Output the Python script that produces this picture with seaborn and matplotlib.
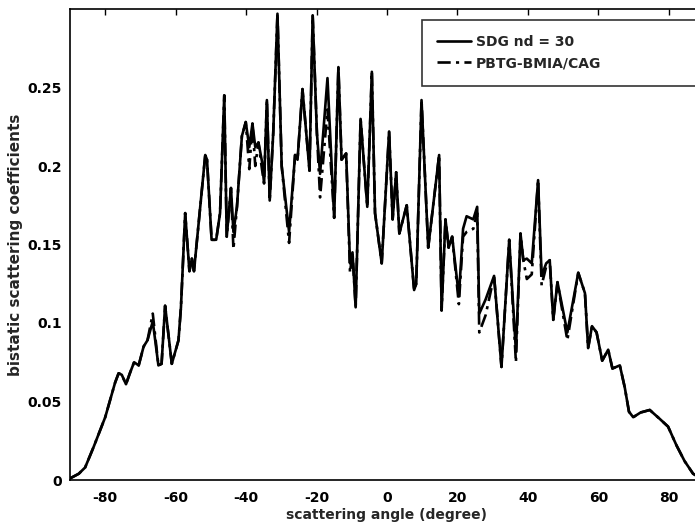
import numpy as np
import pandas as pd
import matplotlib
matplotlib.use("Agg")
import matplotlib.pyplot as plt
import seaborn as sns

# Bistatic scattering coefficients versus scattering angle (degrees)
angle = [-90.0, -87.5, -85.7, -83.3, -80.0, -77.2, -76.2, -75.3, -74.1, -73.0,
         -71.8, -70.5, -69.1, -68.0, -66.5, -64.9, -64.0, -63.0, -61.1, -59.2,
         -58.5, -57.3, -56.1, -55.4, -54.8, -51.6, -51.1, -49.8, -48.5, -47.4,
         -46.2, -45.5, -44.3, -43.6, -42.6, -41.2, -40.1, -39.1, -38.2, -37.4,
         -36.5, -35.5, -34.9, -34.1, -33.3, -32.3, -31.1, -29.9, -27.8, -26.1,
         -25.4, -24.0, -22.0, -21.1, -19.9, -19.0, -16.9, -15.0, -13.8, -12.9,
         -11.6, -10.5, -9.8, -8.9, -7.5, -5.6, -4.3, -3.4, -1.5, 0.6,
         1.6, 2.6, 3.5, 5.6, 7.7, 8.3, 9.8, 11.7, 14.8, 15.5,
         16.6, 17.5, 18.5, 20.4, 21.6, 22.6, 24.5, 25.6, 26.2, 28.0,
         30.4, 32.5, 34.7, 36.6, 37.9, 38.7, 39.7, 41.1, 42.9, 43.9,
         45.2, 46.2, 47.2, 48.4, 51.2, 54.3, 56.2, 57.1, 58.2, 59.5,
         61.1, 62.8, 64.0, 66.1, 67.5, 68.7, 69.9, 72.0, 74.6, 77.4,
         79.8, 82.2, 84.5, 86.9, 90.0]

sdg = [0.001, 0.004, 0.008, 0.021, 0.040, 0.062, 0.068, 0.067, 0.061, 0.068,
       0.075, 0.073, 0.085, 0.089, 0.101, 0.073, 0.074, 0.111, 0.074, 0.089,
       0.110, 0.170, 0.133, 0.141, 0.133, 0.207, 0.204, 0.153, 0.153, 0.170,
       0.245, 0.155, 0.186, 0.158, 0.174, 0.219, 0.228, 0.212, 0.227, 0.212,
       0.215, 0.203, 0.189, 0.242, 0.178, 0.221, 0.297, 0.200, 0.158, 0.207,
       0.204, 0.249, 0.197, 0.296, 0.221, 0.195, 0.256, 0.167, 0.263, 0.204,
       0.208, 0.138, 0.145, 0.110, 0.230, 0.174, 0.260, 0.170, 0.138, 0.222,
       0.166, 0.196, 0.157, 0.175, 0.121, 0.125, 0.242, 0.148, 0.207, 0.108,
       0.166, 0.148, 0.155, 0.117, 0.160, 0.168, 0.166, 0.174, 0.106, 0.115,
       0.130, 0.072, 0.153, 0.082, 0.157, 0.140, 0.141, 0.138, 0.191, 0.130,
       0.138, 0.140, 0.102, 0.126, 0.094, 0.132, 0.119, 0.084, 0.098, 0.094,
       0.076, 0.083, 0.071, 0.073, 0.059, 0.0435, 0.040, 0.043, 0.0446, 0.039,
       0.034, 0.022, 0.012, 0.004, 0.000]

pbtg = [0.001, 0.004, 0.008, 0.021, 0.040, 0.062, 0.068, 0.067, 0.061, 0.068,
        0.075, 0.073, 0.085, 0.089, 0.106, 0.073, 0.074, 0.111, 0.074, 0.089,
        0.110, 0.170, 0.133, 0.141, 0.133, 0.207, 0.204, 0.153, 0.153, 0.170,
        0.245, 0.155, 0.186, 0.147, 0.174, 0.219, 0.228, 0.198, 0.227, 0.200,
        0.215, 0.198, 0.189, 0.242, 0.178, 0.221, 0.297, 0.200, 0.151, 0.207,
        0.204, 0.249, 0.197, 0.296, 0.221, 0.180, 0.236, 0.167, 0.263, 0.204,
        0.208, 0.132, 0.145, 0.110, 0.230, 0.174, 0.260, 0.170, 0.138, 0.222,
        0.166, 0.196, 0.157, 0.175, 0.121, 0.125, 0.242, 0.148, 0.207, 0.108,
        0.166, 0.148, 0.155, 0.112, 0.155, 0.158, 0.160, 0.170, 0.094, 0.105,
        0.130, 0.072, 0.153, 0.075, 0.157, 0.140, 0.128, 0.131, 0.191, 0.124,
        0.136, 0.140, 0.102, 0.126, 0.089, 0.132, 0.119, 0.084, 0.098, 0.094,
        0.076, 0.083, 0.071, 0.073, 0.059, 0.0435, 0.040, 0.043, 0.0446, 0.039,
        0.034, 0.022, 0.012, 0.004, 0.000]

series_names = ["SDG nd = 30", "PBTG-BMIA/CAG"]
x_ticks = [-80, -60, -40, -20, 0, 20, 40, 60, 80]
y_ticks = [0, 0.05, 0.1, 0.15, 0.2, 0.25]
y_tick_labels = ["0", "0.05", "0.1", "0.15", "0.2", "0.25"]

df = pd.concat([
    pd.DataFrame({"angle": angle, "coef": sdg, "method": series_names[0]}),
    pd.DataFrame({"angle": angle, "coef": pbtg, "method": series_names[1]}),
], ignore_index=True)

sns.set_theme(style="white")
plt.rcParams["font.family"] = ["DejaVu Sans"]
plt.rcParams["font.weight"] = "bold"

fig = plt.figure(figsize=(6.95, 5.25), dpi=100)
# axes box runs slightly past the right edge of the canvas
ax = fig.add_axes([70 / 695, 45 / 525, 634 / 695, 471 / 525])

sns.lineplot(
    data=df, x="angle", y="coef", style="method", hue="method",
    palette={series_names[0]: "black", series_names[1]: "black"},
    dashes={series_names[0]: "", series_names[1]: (5, 2, 1.2, 2)},
    estimator=None, sort=False, linewidth=1.9, ax=ax,
)

ax.set_xlim(-90, 90)
ax.set_ylim(0, 0.3)
ax.set_xticks(x_ticks)
ax.set_xticklabels([str(t) for t in x_ticks], fontsize=10, fontweight="bold")
ax.set_yticks(y_ticks)
ax.set_yticklabels(y_tick_labels, fontsize=10, fontweight="bold")
ax.tick_params(axis="x", direction="in", length=4, width=1, top=True,
               colors="black", pad=8)
ax.tick_params(axis="y", direction="in", length=4, width=1, right=True,
               colors="black", pad=6)
for sp in ax.spines.values():
    sp.set_color("black")
    sp.set_linewidth(1.2)

ax.set_xlabel("scattering angle (degree)", fontsize=10, fontweight="bold", labelpad=2)
ax.set_ylabel("bistatic scattering coefficients", fontsize=11, fontweight="bold", labelpad=3)

leg = ax.legend(
    loc="upper left", mode="expand",
    bbox_to_anchor=((422 - 70) / 634, 1 - 11 / 471 - 0.01, (702 - 422) / 634, 0.01),
    borderaxespad=0, frameon=True, fancybox=False, handlelength=2.4,
    labelspacing=0.5, borderpad=1.1, handletextpad=0.4,
    prop={"weight": "bold", "size": 10},
)
leg.get_frame().set_edgecolor("black")
leg.get_frame().set_linewidth(1.2)
leg.get_frame().set_boxstyle("square", pad=0)

fig.savefig("out.png", dpi=100, facecolor="white")
